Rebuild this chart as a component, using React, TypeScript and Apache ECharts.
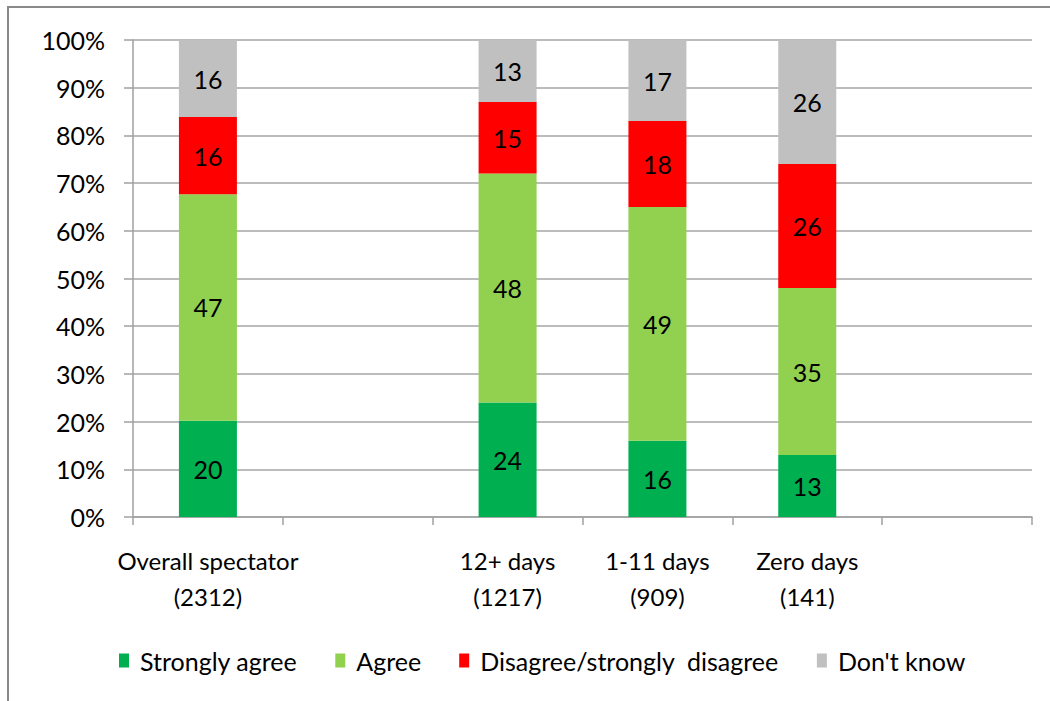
import React, { useEffect, useRef } from "react";
import * as echarts from "echarts";

const categories = ["Overall spectator\n(2312)", "", "12+ days\n(1217)", "1-11 days\n(909)", "Zero days\n(141)", " "];
const seriesNames = ["Strongly agree", "Agree", "Disagree/strongly  disagree", "Don't know"];
const stronglyAgree = [20, null, 24, 16, 13, null];
const agree = [47, null, 48, 49, 35, null];
const disagree = [16, null, 15, 18, 26, null];
const dontKnow = [16, null, 13, 17, 26, null];
const colors = ["#00B050", "#92D050", "#FF0000", "#C0C0C0"];
const yTicks = [0, 10, 20, 30, 40, 50, 60, 70, 80, 90, 100];

const FONT = "Lato, 'Noto Sans', sans-serif";

export default function App() {
  const ref = useRef<HTMLDivElement>(null);
  useEffect(() => {
    if (!ref.current) return;
    const chart = echarts.init(ref.current, null, { renderer: "svg" });
    const all = [stronglyAgree, agree, disagree, dontKnow];
    const totals = categories.map((_, i) =>
      all.reduce((s, arr) => s + (arr[i] == null ? 0 : (arr[i] as number)), 0)
    );
    const series = all.map((arr, si) => ({
      name: seriesNames[si],
      type: "bar",
      stack: "total",
      barWidth: 58,
      itemStyle: { color: colors[si] },
      label: {
        show: true,
        position: "inside",
        color: "#000",
        fontFamily: FONT,
        fontSize: 25,
        formatter: (p: any) => (p.data && p.data.raw != null ? String(p.data.raw) : ""),
      },
      data: arr.map((v, i) =>
        v == null ? { value: null } : { value: (v / totals[i]) * 100, raw: v }
      ),
    }));
    chart.setOption({
      animation: false,
      backgroundColor: "#fff",
      graphic: [
        {
          type: "rect",
          shape: { x: 8, y: 7, width: 1200, height: 900 },
          style: { fill: "none", stroke: "#8a8a8a", lineWidth: 2 },
          silent: true,
        },
      ],
      legend: {
        bottom: 23,
        left: 114,
        itemWidth: 10,
        itemHeight: 14,
        itemGap: 38,
        icon: "rect",
        textStyle: { fontFamily: FONT, fontSize: 25, color: "#000", padding: [0, 0, 0, 6] },
        data: seriesNames,
      },
      grid: { left: 133, right: 18, top: 40, bottom: 184 },
      xAxis: {
        type: "category",
        data: categories,
        axisLine: { lineStyle: { color: "#a0a0a0", width: 1.5 } },
        axisTick: { show: true, length: 8, lineStyle: { color: "#a0a0a0", width: 1.5 } },
        axisLabel: {
          fontFamily: FONT,
          fontSize: 24,
          color: "#000",
          lineHeight: 36,
          margin: 25,
          interval: 0,
        },
      },
      yAxis: {
        type: "value",
        min: 0,
        max: 100,
        interval: 10,
        axisLine: { show: true, lineStyle: { color: "#a0a0a0", width: 1.5 } },
        axisTick: { show: true, length: 9, lineStyle: { color: "#a0a0a0", width: 1.5 } },
        splitLine: { lineStyle: { color: "#a6a6a6", width: 1.5 } },
        axisLabel: {
          fontFamily: FONT,
          fontSize: 25,
          color: "#000",
          margin: 28,
          formatter: (v: number) => (yTicks.includes(v) ? v + "%" : ""),
        },
      },
      series,
    });
    return () => chart.dispose();
  }, []);
  return (
    <div
      ref={ref}
      style={{ position: "fixed", left: 0, top: 0, width: 1050, height: 701 }}
    />
  );
}
